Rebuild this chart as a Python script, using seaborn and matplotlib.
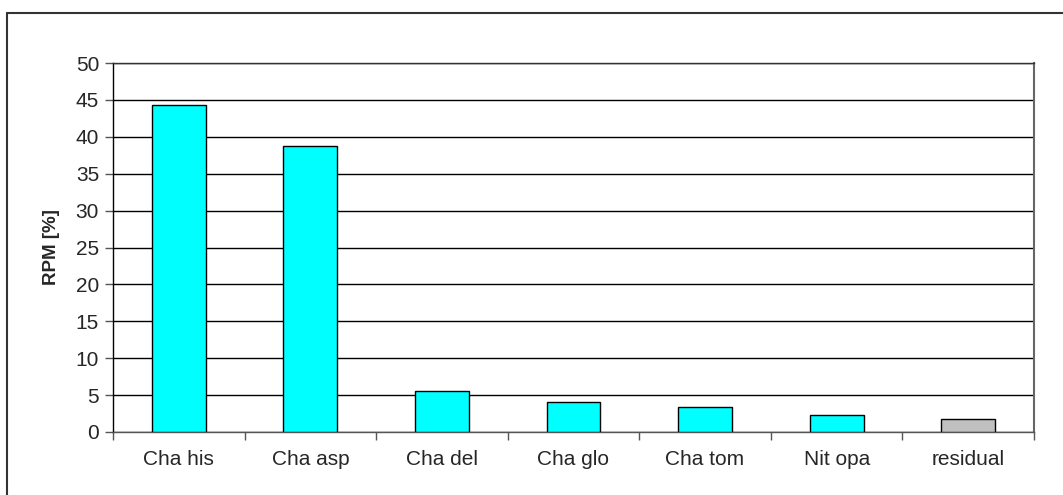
import matplotlib
matplotlib.use("Agg")
import matplotlib.pyplot as plt
import seaborn as sns
import pandas as pd
import numpy as np

# values
species = ["Cha his", "Cha asp", "Cha del", "Cha glo", "Cha tom", "Nit opa", "residual"]
rpm = [44.3, 38.7, 5.5, 4.05, 3.35, 2.3, 1.8]
bar_colors = ["#00FFFF"] * 6 + ["#C0C0C0"]
y_ticks = list(range(0, 55, 5))

df = pd.DataFrame({"species": species, "rpm": rpm})

sns.set_style("white")
plt.rcParams["font.family"] = ["Liberation Sans", "DejaVu Sans"]

fig = plt.figure(figsize=(10.63, 4.95), dpi=100)
ax = fig.add_axes([0.1063, 0.1273, 0.8664, 0.7454])

sns.barplot(data=df, x="species", y="rpm", hue="species", palette=bar_colors,
            saturation=1, width=0.41, edgecolor="black", linewidth=1.0,
            legend=False, zorder=3, ax=ax)

ax.set_ylim(0, 50)
ax.set_xlim(-0.5, len(species) - 0.5)
ax.set_yticks(y_ticks)
ax.tick_params(axis="y", labelsize=15, length=6, width=1, color="#555555",
               direction="out", pad=4, left=True)
ax.tick_params(axis="x", which="major", labelsize=15, length=0, pad=13)
ax.set_xticks(np.arange(-0.5, len(species), 1.0), minor=True)
ax.tick_params(axis="x", which="minor", length=6, width=1, color="#555555",
               direction="out", bottom=True)

ax.yaxis.grid(True, color="black", linewidth=1.0, zorder=0)
ax.set_axisbelow(True)
ax.set_xlabel("")
ax.set_ylabel("RPM [%]", fontsize=13.5, fontweight="bold", labelpad=11)

ax.spines["left"].set_color("black")
ax.spines["bottom"].set_color("#555555")
ax.spines["right"].set_color("#666666")
ax.spines["right"].set_linewidth(1.5)
ax.spines["top"].set_color("#333333")
for s in ["left", "bottom", "top"]:
    ax.spines[s].set_linewidth(1.0)

# outer chart border (cropped on the right and bottom in the original)
fig.add_artist(plt.Line2D([0.0066, 1.0], [0.9747, 0.9747], color="#333333",
                          linewidth=1.5, transform=fig.transFigure))
fig.add_artist(plt.Line2D([0.0066, 0.0066], [0.0, 0.9747], color="#333333",
                          linewidth=1.5, transform=fig.transFigure))

plt.savefig("out.png", dpi=100)
plt.close()
